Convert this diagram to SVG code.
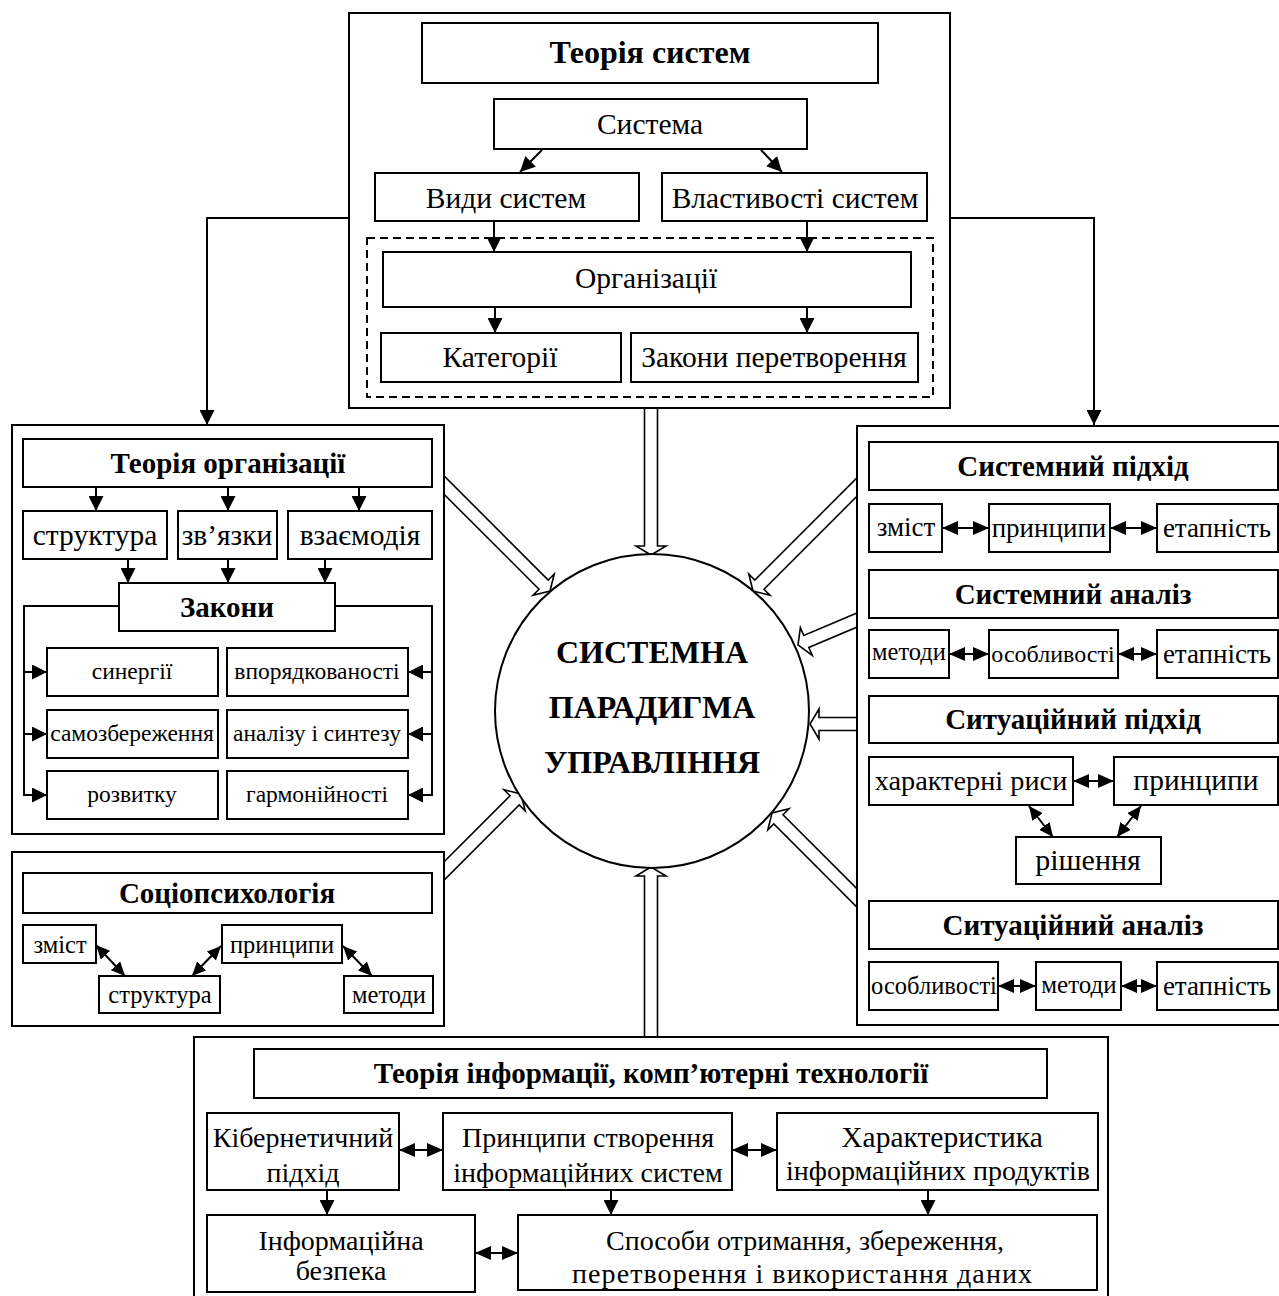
<svg xmlns="http://www.w3.org/2000/svg" width="1279" height="1296" viewBox="0 0 1279 1296">
<style>
.b{fill:#fff;stroke:#000;stroke-width:2}
.o{fill:#fff;stroke:#000;stroke-width:2}
.d{fill:none;stroke:#000;stroke-width:2;stroke-dasharray:8 5}
.c{fill:none;stroke:#000;stroke-width:2}
.h{fill:#fff;stroke:#000;stroke-width:1.6;stroke-linejoin:miter}
text{font-family:"Liberation Serif","Times New Roman",serif;text-anchor:middle;fill:#000}
.r{font-size:29.5px}
.q{font-size:28px}
.s{font-size:23.5px}
.p{font-size:27px}
.k{font-size:24.5px}
.t{font-size:29px;font-weight:bold}
.big{font-size:32px;font-weight:bold}
</style>
<defs>
<marker id="a" viewBox="0 0 15 15" refX="15" refY="7.5" markerWidth="15" markerHeight="15" markerUnits="userSpaceOnUse" orient="auto-start-reverse"><path d="M0,0 L15,7.5 L0,15 z"/></marker>
<marker id="m" viewBox="0 0 16 14" refX="16" refY="7" markerWidth="16" markerHeight="14" markerUnits="userSpaceOnUse" orient="auto-start-reverse"><path d="M0,0 L16,7 L0,14 z"/></marker>
<marker id="n" viewBox="0 0 14 13" refX="14" refY="6.5" markerWidth="14" markerHeight="13" markerUnits="userSpaceOnUse" orient="auto-start-reverse"><path d="M0,0 L14,6.5 L0,13 z"/></marker>
</defs>

<g id="connectors">
<!-- hollow arrows to the centre -->
<polygon class="h" points="644.5,400 644.5,546 636,546 651,555 666,546 657.5,546 657.5,400"/>
<polygon class="h" points="657.5,1045 657.5,876 666,876 651,867 636,876 644.5,876 644.5,1045"/>
<polygon class="h" points="431.4,481.6 539,589.2 533,595.2 550,591 554.2,574 548.2,580 440.6,472.4"/>
<polygon class="h" points="440.6,883.6 519.2,805 525.2,811 521,794 504,789.8 510,795.8 431.4,874.4"/>
<polygon class="h" points="860.4,474.4 754.8,580 748.8,574 753,591 770,595.2 764,589.2 869.6,483.6"/>
<polygon class="h" points="864.6,609.7 803.8,635.5 800.4,627.7 798,645 812.2,655.3 808.8,647.5 869.6,621.7"/>
<polygon class="h" points="866,717.5 819,717.5 819,709 810,724 819,739 819,730.5 866,730.5"/>
<polygon class="h" points="869.6,901.4 783,814.8 789,808.8 772,813 767.8,830 773.8,824 860.4,910.6"/>
<!-- top block to side blocks -->
<polyline class="c" points="349,218 207,218 207,425" marker-end="url(#a)"/>
<polyline class="c" points="950,218 1094,218 1094,425" marker-end="url(#a)"/>
</g>

<g id="n-centre">
<circle cx="652" cy="711" r="157" class="o"/>
<text class="big" x="652" y="663">СИСТЕМНА</text>
<text class="big" x="652" y="718">ПАРАДИГМА</text>
<text class="big" x="652" y="773">УПРАВЛІННЯ</text>
</g>

<g id="n-systems-theory">
<rect class="o" x="349" y="13" width="601" height="395"/>
<rect class="d" x="367" y="238" width="566" height="159"/>
<rect class="b" x="422" y="23" width="456" height="60"/>
<text class="big" x="650" y="63">Теорія систем</text>
<rect class="b" x="494" y="99" width="313" height="50"/>
<text class="r" x="650" y="134">Система</text>
<rect class="b" x="375" y="173" width="264" height="48"/>
<text class="r" x="506" y="208">Види систем</text>
<rect class="b" x="662" y="173" width="265" height="48"/>
<text class="r" x="795" y="208">Властивості систем</text>
<rect class="b" x="383" y="252" width="528" height="55"/>
<text class="r" x="646" y="288">Організації</text>
<rect class="b" x="381" y="333" width="240" height="49"/>
<text class="r" x="500" y="367">Категорії</text>
<rect class="b" x="631" y="333" width="287" height="49"/>
<text class="r" x="774" y="367">Закони перетворення</text>
<g class="c">
<line x1="542" y1="150" x2="520" y2="172" marker-end="url(#a)"/>
<line x1="761" y1="150" x2="782" y2="172" marker-end="url(#a)"/>
<line x1="494" y1="221" x2="494" y2="252" marker-end="url(#a)"/>
<line x1="807" y1="221" x2="807" y2="252" marker-end="url(#a)"/>
<line x1="495" y1="307" x2="495" y2="333" marker-end="url(#a)"/>
<line x1="807" y1="307" x2="807" y2="333" marker-end="url(#a)"/>
</g>
</g>

<g id="n-organisation-theory">
<rect class="o" x="12" y="425" width="432" height="409"/>
<rect class="b" x="23" y="439" width="409" height="48"/>
<text class="t" x="228" y="473">Теорія організації</text>
<rect class="b" x="23" y="511" width="144" height="48"/>
<text class="r" x="95" y="545">структура</text>
<rect class="b" x="178" y="511" width="99" height="48"/>
<text class="r" x="227" y="545">зв’язки</text>
<rect class="b" x="288" y="511" width="144" height="48"/>
<text class="r" x="360" y="545">взаємодія</text>
<rect class="b" x="119" y="583" width="216" height="48"/>
<text class="t" x="227" y="617">Закони</text>
<rect class="b" x="47" y="648" width="171" height="48"/>
<text class="s" x="132" y="679">синергії</text>
<rect class="b" x="227" y="648" width="181" height="48"/>
<text class="s" x="317" y="679">впорядкованості</text>
<rect class="b" x="47" y="710" width="171" height="48"/>
<text class="s" x="132" y="741">самозбереження</text>
<rect class="b" x="227" y="710" width="181" height="48"/>
<text class="s" x="317" y="741">аналізу і синтезу</text>
<rect class="b" x="47" y="771" width="171" height="48"/>
<text class="s" x="132" y="802">розвитку</text>
<rect class="b" x="227" y="771" width="181" height="48"/>
<text class="s" x="317" y="802">гармонійності</text>
<g class="c">
<line x1="96" y1="487" x2="96" y2="511" marker-end="url(#a)"/>
<line x1="228" y1="487" x2="228" y2="511" marker-end="url(#a)"/>
<line x1="359" y1="487" x2="359" y2="511" marker-end="url(#a)"/>
<line x1="128" y1="559" x2="128" y2="583" marker-end="url(#a)"/>
<line x1="228" y1="559" x2="228" y2="583" marker-end="url(#a)"/>
<line x1="325" y1="559" x2="325" y2="583" marker-end="url(#a)"/>
<polyline points="119,606 24,606 24,796"/>
<polyline points="335,606 432,606 432,796"/>
<line x1="24" y1="672" x2="47" y2="672" marker-end="url(#a)"/>
<line x1="24" y1="734" x2="47" y2="734" marker-end="url(#a)"/>
<line x1="24" y1="795" x2="47" y2="795" marker-end="url(#a)"/>
<line x1="432" y1="672" x2="408" y2="672" marker-end="url(#a)"/>
<line x1="432" y1="734" x2="408" y2="734" marker-end="url(#a)"/>
<line x1="432" y1="795" x2="408" y2="795" marker-end="url(#a)"/>
</g>
</g>

<g id="n-sociopsychology">
<rect class="o" x="12" y="852" width="432" height="174"/>
<rect class="b" x="23" y="873" width="409" height="40"/>
<text class="t" x="227" y="903">Соціопсихологія</text>
<rect class="b" x="23" y="925" width="73" height="38"/>
<text class="k" x="60" y="953">зміст</text>
<rect class="b" x="99" y="976" width="121" height="37"/>
<text class="k" x="160" y="1003">структура</text>
<rect class="b" x="222" y="925" width="120" height="38"/>
<text class="k" x="282" y="953">принципи</text>
<rect class="b" x="344" y="976" width="89" height="37"/>
<text class="k" x="389" y="1003">методи</text>
<g class="c">
<line x1="96" y1="945" x2="125" y2="976" marker-start="url(#n)" marker-end="url(#n)"/>
<line x1="192" y1="976" x2="221" y2="946" marker-start="url(#n)" marker-end="url(#n)"/>
<line x1="343" y1="946" x2="372" y2="976" marker-start="url(#n)" marker-end="url(#n)"/>
</g>
</g>

<g id="n-approaches">
<rect class="o" x="857" y="426" width="440" height="599"/>
<rect class="b" x="869" y="442" width="409" height="48"/>
<text class="t" x="1073" y="476">Системний підхід</text>
<rect class="b" x="869" y="504" width="73" height="48"/>
<text class="p" x="906" y="536">зміст</text>
<rect class="b" x="989" y="504" width="121" height="48"/>
<text class="p" x="1049" y="537">принципи</text>
<rect class="b" x="1157" y="504" width="121" height="48"/>
<text class="p" x="1217" y="537">етапність</text>
<rect class="b" x="869" y="570" width="409" height="48"/>
<text class="t" x="1073" y="604">Системний аналіз</text>
<rect class="b" x="869" y="630" width="80" height="48"/>
<text class="k" x="909" y="660">методи</text>
<rect class="b" x="989" y="630" width="129" height="48"/>
<text x="1053" y="662" style="font-size:24px">особливості</text>
<rect class="b" x="1157" y="630" width="121" height="48"/>
<text class="p" x="1217" y="663">етапність</text>
<rect class="b" x="869" y="696" width="409" height="47"/>
<text class="t" x="1073" y="729">Ситуаційний підхід</text>
<rect class="b" x="869" y="757" width="204" height="48"/>
<text x="971" y="790" style="font-size:28.3px">характерні риси</text>
<rect class="b" x="1114" y="757" width="164" height="48"/>
<text class="r" x="1196" y="790">принципи</text>
<rect class="b" x="1016" y="837" width="145" height="47"/>
<text x="1088" y="870" style="font-size:30px">рішення</text>
<rect class="b" x="869" y="901" width="409" height="48"/>
<text class="t" x="1073" y="935">Ситуаційний аналіз</text>
<rect class="b" x="869" y="962" width="129" height="48"/>
<text x="934" y="994" style="font-size:24.5px">особливості</text>
<rect class="b" x="1036" y="962" width="85" height="48"/>
<text x="1079" y="993" style="font-size:25px">методи</text>
<rect class="b" x="1157" y="962" width="121" height="48"/>
<text class="p" x="1217" y="995">етапність</text>
<g class="c">
<line x1="942" y1="528" x2="989" y2="528" marker-start="url(#m)" marker-end="url(#m)"/>
<line x1="1110" y1="528" x2="1157" y2="528" marker-start="url(#m)" marker-end="url(#m)"/>
<line x1="949" y1="654" x2="989" y2="654" marker-start="url(#m)" marker-end="url(#m)"/>
<line x1="1118" y1="654" x2="1157" y2="654" marker-start="url(#m)" marker-end="url(#m)"/>
<line x1="1073" y1="781" x2="1114" y2="781" marker-start="url(#m)" marker-end="url(#m)"/>
<line x1="1029" y1="806" x2="1053" y2="837" marker-start="url(#n)" marker-end="url(#n)"/>
<line x1="1141" y1="806" x2="1117" y2="837" marker-start="url(#n)" marker-end="url(#n)"/>
<line x1="998" y1="986" x2="1036" y2="986" marker-start="url(#m)" marker-end="url(#m)"/>
<line x1="1121" y1="986" x2="1157" y2="986" marker-start="url(#m)" marker-end="url(#m)"/>
</g>
</g>

<g id="n-information-theory">
<rect class="o" x="194" y="1037" width="914" height="270"/>
<rect class="b" x="254" y="1049" width="793" height="49"/>
<text class="t" x="651" y="1083">Теорія інформації, комп’ютерні технології</text>
<rect class="b" x="207" y="1113" width="192" height="77"/>
<text class="q" x="303" y="1147">Кібернетичний</text>
<text class="q" x="303" y="1182">підхід</text>
<rect class="b" x="443" y="1113" width="289" height="77"/>
<text class="q" x="588" y="1147">Принципи створення</text>
<text class="q" x="588" y="1182">інформаційних систем</text>
<rect class="b" x="777" y="1113" width="321" height="77"/>
<text x="942" y="1147" style="font-size:29.5px">Характеристика</text>
<text class="q" x="938" y="1180">інформаційних продуктів</text>
<rect class="b" x="207" y="1215" width="268" height="77"/>
<text class="q" x="341" y="1250">Інформаційна</text>
<text class="q" x="341" y="1280">безпека</text>
<rect class="b" x="518" y="1215" width="579" height="75"/>
<text class="q" x="805" y="1250">Способи отримання, збереження,</text>
<text class="q" x="802" y="1283" textLength="460" lengthAdjust="spacing">перетворення і використання даних</text>
<g class="c">
<line x1="399" y1="1150" x2="443" y2="1150" marker-start="url(#m)" marker-end="url(#m)"/>
<line x1="732" y1="1150" x2="777" y2="1150" marker-start="url(#m)" marker-end="url(#m)"/>
<line x1="475" y1="1253" x2="518" y2="1253" marker-start="url(#m)" marker-end="url(#m)"/>
<line x1="327" y1="1190" x2="327" y2="1215" marker-end="url(#a)"/>
<line x1="611" y1="1190" x2="611" y2="1215" marker-end="url(#a)"/>
<line x1="928" y1="1190" x2="928" y2="1215" marker-end="url(#a)"/>
</g>
</g>
</svg>
